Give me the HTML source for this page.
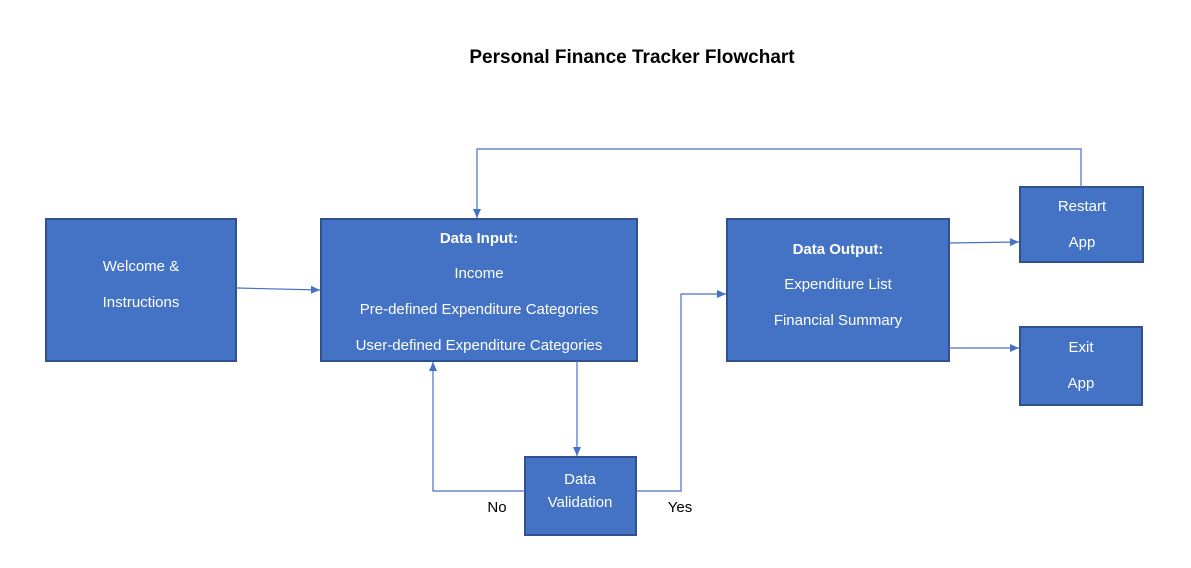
<!DOCTYPE html>
<html><head><meta charset="utf-8"><style>
body{margin:0;background:#fff;width:1191px;height:563px;overflow:hidden;font-family:"Liberation Sans",sans-serif}
</style></head><body>
<svg width="1191" height="563" xmlns="http://www.w3.org/2000/svg" font-family="Liberation Sans, sans-serif">
<defs><marker id="a" markerWidth="10" markerHeight="10" refX="9" refY="5" orient="auto" markerUnits="userSpaceOnUse"><path d="M0,1 L9,5 L0,9 z" fill="#4472C4"/></marker></defs>
<text x="632" y="63" text-anchor="middle" font-size="19" font-weight="bold" fill="#000">Personal Finance Tracker Flowchart</text>
<g fill="#4472C4" stroke="#2F528F" stroke-width="2">
<rect x="46" y="219" width="190" height="142"/>
<rect x="321" y="219" width="316" height="142"/>
<rect x="727" y="219" width="222" height="142"/>
<rect x="1020" y="187" width="123" height="75"/>
<rect x="1020" y="327" width="122" height="78"/>
<rect x="525" y="457" width="111" height="78"/>
</g>
<g fill="none" stroke="#4472C4" stroke-width="1.2" marker-end="url(#a)">
<path d="M236,288 L320,290"/>
<path d="M1081,187 L1081,149 L477,149 L477,218"/>
<path d="M577,361 L577,456"/>
<path d="M525,491 L433,491 L433,362"/>
<path d="M636,491 L681,491 L681,294 L726,294"/>
<path d="M949,243 L1019,242"/>
<path d="M949,348 L1019,348"/>
</g>
<g fill="#fff" font-size="15" text-anchor="middle">
<text x="141" y="271">Welcome &amp;</text>
<text x="141" y="307">Instructions</text>
<text x="479" y="243" font-weight="bold">Data Input:</text>
<text x="479" y="278">Income</text>
<text x="479" y="314">Pre-defined Expenditure Categories</text>
<text x="479" y="350">User-defined Expenditure Categories</text>
<text x="838" y="254" font-weight="bold">Data Output:</text>
<text x="838" y="289">Expenditure List</text>
<text x="838" y="325">Financial Summary</text>
<text x="1082" y="211">Restart</text>
<text x="1082" y="247">App</text>
<text x="1081" y="352">Exit</text>
<text x="1081" y="388">App</text>
<text x="580" y="484">Data</text>
<text x="580" y="507">Validation</text>
</g>
<g fill="#000" font-size="15" text-anchor="middle">
<text x="497" y="512">No</text>
<text x="680" y="512">Yes</text>
</g>
</svg>
</body></html>
